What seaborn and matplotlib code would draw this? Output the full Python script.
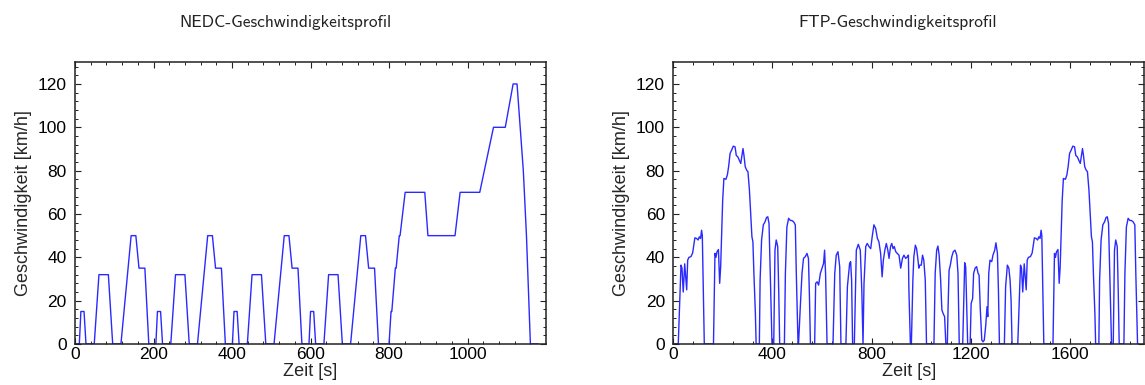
import numpy as np
import pandas as pd
import matplotlib
matplotlib.use("Agg")
import matplotlib.pyplot as plt
from matplotlib.ticker import MultipleLocator
import seaborn as sns

# ---------------- data ----------------
# NEDC: urban ECE-15 elementary cycle (repeated 4x) + extra-urban EUDC part
ece_t = [0, 11, 15, 23, 28, 49, 61, 85, 96, 117, 143, 155, 163, 176, 178, 188, 195]
ece_v = [0, 0, 15, 15, 0, 0, 32, 32, 0, 0, 50, 50, 35, 35, 35, 0, 0]
ece_starts = [0, 195, 390, 585]
eudc_t = [0, 20, 25, 27, 36, 38, 46, 48, 61, 111, 119, 188, 201, 251, 286,
          316, 336, 346, 362, 370, 380, 400]
eudc_v = [0, 0, 15, 15, 35, 35, 50, 50, 70, 70, 50, 50, 70, 70, 100,
          100, 120, 120, 80, 50, 0, 0]
eudc_start = 780

# FTP-75: bag 1 (cold start), bag 2 (stabilised), bag 3 = bag 1 hot start
bag1_t = [0, 20, 31, 35, 40, 46, 54, 58, 63, 71, 78, 82, 87, 94, 100, 105, 110, 114, 117, 125,
          162, 168, 172, 176, 182, 187, 191, 195, 199, 204, 212, 218, 223, 229, 235, 242, 249,
          254, 260, 266, 272, 276, 281, 285, 290, 296, 301, 307, 312, 317, 321, 325, 331, 334,
          347, 350, 356, 363, 370, 376, 381, 386, 391, 398,
          405, 410, 415, 421, 425, 429,
          448, 452, 458, 465, 472, 478, 485, 492, 496, 503, 505]
bag1_v = [0, 0, 36.4, 35, 24, 37, 25, 38.7, 40, 40.3, 42, 45, 49, 48.7, 48, 49.5, 48.7, 52.5, 50, 0,
          0, 41.8, 40, 42.5, 43.6, 28, 35.7, 51, 66, 76.4, 76, 78, 81.8, 88, 89.4, 91.3, 91,
          87, 86.4, 84.8, 83.3, 86.4, 90.2, 87, 81.8, 80.2, 79.5, 71, 60.2, 49.5, 47.2, 32.6, 14, 0,
          0, 29.5, 48, 55, 56.4, 58.4, 58.7, 55.6, 32.6, 0,
          0, 43.3, 48, 45, 25, 0,
          0, 32.6, 54, 58, 57, 57, 56.4, 55, 32.6, 0, 0]
bag2_t = [512, 519, 525, 532, 539, 545, 549, 553,
          570, 574, 580, 586, 593, 600, 606, 610, 614, 620,
          644, 651, 657, 664, 671, 676,
          696, 702, 707, 711, 715, 719, 723,
          730, 738, 746, 754, 760, 765,
          769, 776, 782, 789, 796, 802, 809, 816, 823, 829, 836, 842, 847, 853, 859, 865, 870,
          876, 881, 886, 891, 897, 903, 910, 917, 924, 930, 937, 944, 948, 950, 956,
          960, 966, 970, 976, 981, 986, 990, 994, 1000, 1005, 1010, 1016, 1021,
          1051, 1056, 1062, 1067, 1072, 1078, 1083, 1088, 1094, 1099,
          1105, 1108, 1112, 1117, 1123, 1129, 1136, 1143, 1148, 1153,
          1167, 1175, 1179, 1183, 1187,
          1197, 1201, 1207, 1211, 1217, 1223, 1229, 1233, 1238, 1244, 1249, 1254, 1260, 1265,
          1268, 1272, 1277, 1284, 1289, 1296, 1301, 1307, 1311, 1315,
          1335, 1340, 1347, 1353, 1358, 1362, 1366]
bag2_v = [17, 32.6, 39.5, 40.3, 41.8, 39.5, 21.8, 0,
          0, 28, 28.7, 27.2, 32.6, 35, 37.2, 43.3, 32.6, 0,
          0, 32.6, 41, 42.6, 35.7, 0,
          0, 26.4, 32.6, 37.2, 38, 29.5, 0,
          0, 43.3, 46, 43.3, 25, 0,
          28, 45, 46.4, 45, 44, 49.5, 55, 53.3, 48.7, 47.2, 41.8, 31, 38.7, 43.3, 46.4, 43.3, 39.5,
          45, 46.4, 44, 45, 42.6, 41.8, 41, 35, 39.5, 41, 39.5, 40.3, 41, 25, 0,
          0, 29.5, 40.3, 45.6, 44, 39.5, 35, 36.4, 36.4, 41, 38.7, 29.5, 0,
          0, 32.6, 43.3, 45.2, 41, 29.5, 15.7, 14.1, 12.6, 0,
          0, 17, 34, 36.4, 40.3, 42.6, 43.3, 41, 32.6, 0,
          0, 37.5, 35.7, 17.2, 0,
          0, 18.7, 21, 32.6, 35, 35.7, 32.6, 31.8, 15.7, 1.8, 1, 1.8, 8.8, 17.2,
          12.6, 32.6, 38.7, 38, 41, 43.3, 46.7, 41.8, 25, 0,
          0, 26.4, 36.4, 35, 29.5, 20.3, 0]
bag3_start = 1369

titles = ["NEDC-Geschwindigkeitsprofil", "FTP-Geschwindigkeitsprofil"]
x_label = "Zeit [s]"
y_label = "Geschwindigkeit [km/h]"

# ---------------- assemble ----------------
nedc_t = []
nedc_v = []
for s in ece_starts:
    nedc_t += [s + t for t in ece_t[:-1]]
    nedc_v += ece_v[:-1]
nedc_t += [eudc_start + t for t in eudc_t]
nedc_v += eudc_v
df_nedc = pd.DataFrame({"t": nedc_t, "v": nedc_v})

ftp_t = bag1_t + bag2_t + [bag3_start + t for t in bag1_t]
ftp_v = bag1_v + bag2_v + bag1_v
df_ftp = pd.DataFrame({"t": ftp_t, "v": ftp_v})

# ---------------- style ----------------
sns.set_theme(style="ticks")
plt.rcParams.update({
    "font.family": ["Liberation Sans", "DejaVu Sans"],
    "xtick.direction": "in", "ytick.direction": "in",
    "xtick.top": True, "ytick.right": True,
    "xtick.major.size": 4.3, "ytick.major.size": 4.3,
    "xtick.minor.size": 2.2, "ytick.minor.size": 2.2,
    "xtick.major.width": 0.8, "ytick.major.width": 0.8,
    "xtick.minor.width": 0.7, "ytick.minor.width": 0.7,
    "xtick.color": "#222222", "ytick.color": "#222222",
    "xtick.labelcolor": "black", "ytick.labelcolor": "black",
    "axes.edgecolor": "#222222", "axes.linewidth": 1.1,
})

fig = plt.figure(figsize=(11.45, 3.85), dpi=100)
W, H = 1145.0, 385.0
ax1 = fig.add_axes([75 / W, 41 / H, 470.7 / W, 281.7 / H])
ax2 = fig.add_axes([673.3 / W, 41 / H, 470.7 / W, 281.7 / H])

line_color = "#2a2aff"
sns.lineplot(data=df_nedc, x="t", y="v", ax=ax1, color=line_color, lw=1.0,
             estimator=None, sort=False)
sns.lineplot(data=df_ftp, x="t", y="v", ax=ax2, color=line_color, lw=1.0,
             estimator=None, sort=False)

for ax, xmax, major, minor in [(ax1, 1199, 200, 40), (ax2, 1898, 400, 80)]:
    ax.set_xlim(0, xmax)
    ax.set_ylim(0, 130)
    ax.xaxis.set_major_locator(MultipleLocator(major))
    ax.xaxis.set_minor_locator(MultipleLocator(minor))
    ax.yaxis.set_major_locator(MultipleLocator(20))
    ax.yaxis.set_minor_locator(MultipleLocator(4))
    ax.tick_params(which="both", top=True, right=True, direction="in")
    ax.tick_params(axis="y", which="major", labelsize=12.5, pad=6)
    ax.tick_params(axis="x", which="major", labelsize=12.5, pad=2.5)
    ax.set_xlabel(x_label, fontsize=13, labelpad=0.5)
    ax.set_ylabel(y_label, fontsize=13, labelpad=4)
    ax.set_facecolor("white")
    for sp in ax.spines.values():
        sp.set_visible(True)

fig.text(285 / W, 1 - 22 / H, titles[0], ha="center", va="center",
         family="cmss10", fontsize=12.5, color="#222222")
fig.text(898 / W, 1 - 22 / H, titles[1], ha="center", va="center",
         family="cmss10", fontsize=12.5, color="#222222")

fig.savefig("out.png", dpi=100, facecolor="white")
